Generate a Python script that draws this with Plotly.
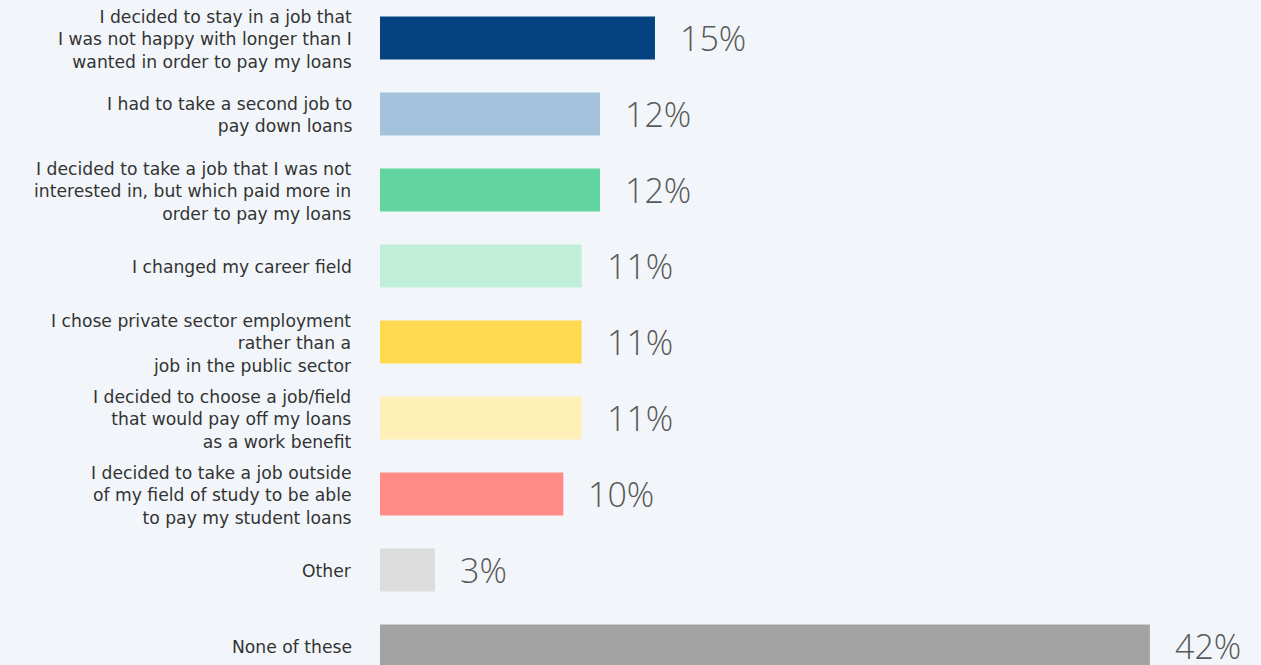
import plotly.graph_objects as go

categories = [
    "I decided to stay in a job that<br>I was not happy with longer than I<br>wanted in order to pay my loans",
    "I had to take a second job to<br>pay down loans",
    "I decided to take a job that I was not<br>interested in, but which paid more in<br>order to pay my loans",
    "I changed my career field",
    "I chose private sector employment<br>rather than a<br>job in the public sector",
    "I decided to choose a job/field<br>that would pay off my loans<br>as a work benefit",
    "I decided to take a job outside<br>of my field of study to be able<br>to pay my student loans",
    "Other",
    "None of these",
]
values = [15, 12, 12, 11, 11, 11, 10, 3, 42]
labels = ["15%", "12%", "12%", "11%", "11%", "11%", "10%", "3%", "42%"]
colors = ["#05427f", "#a4c2dc", "#61d4a0", "#c0eed9", "#ffd94f",
          "#fff0b8", "#ff8a86", "#dcdcdc", "#a3a3a3"]

idx = list(range(len(categories)))
fig = go.Figure(go.Bar(
    x=values, y=idx, orientation="h", width=0.566,
    marker=dict(color=colors, line=dict(width=0)),
    hoverinfo="skip",
))

annotations = []
for i, (v, t, c) in enumerate(zip(values, labels, categories)):
    annotations.append(dict(x=v, y=i, xref="x", yref="y", text=t, showarrow=False,
                            xanchor="left", yanchor="middle", xshift=23, yshift=0,
                            font=dict(family="Open Sans", size=34, color="#595959", weight=300)))
    annotations.append(dict(x=0, y=i, xref="paper", yref="y", text=c, showarrow=False,
                            xanchor="right", yanchor="middle", xshift=-26, yshift=-1, align="right",
                            font=dict(family="DejaVu Sans", size=17.2, color="#333333")))

fig.update_layout(
    width=1261, height=665,
    margin=dict(l=380, r=0, t=0, b=0),
    paper_bgcolor="#f2f6fa", plot_bgcolor="#f2f6fa",
    xaxis=dict(range=[0, 48.06], visible=False, fixedrange=True),
    yaxis=dict(range=[8.25, -0.5], visible=False, fixedrange=True),
    showlegend=False,
    annotations=annotations,
)
fig.write_html("out.html")
